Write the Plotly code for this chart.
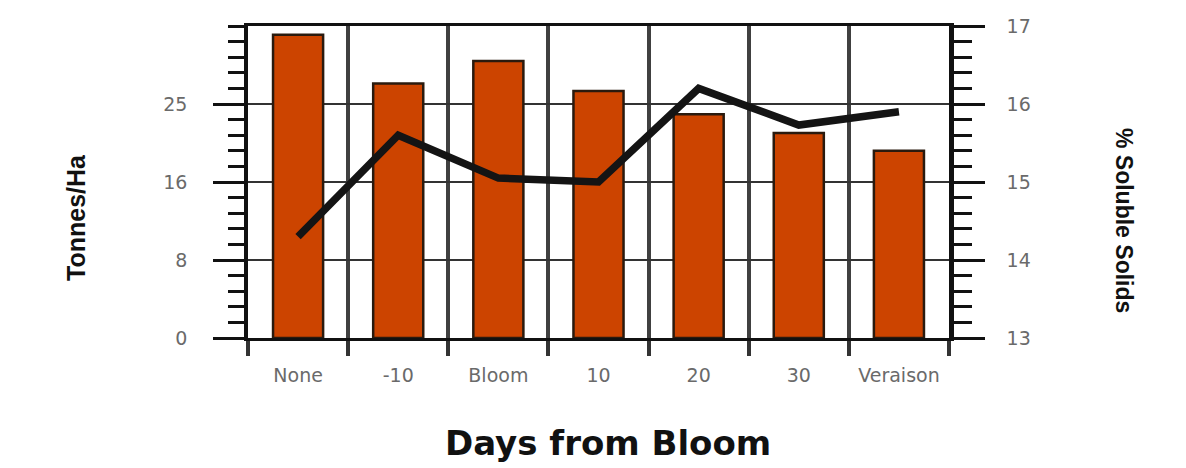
import plotly.graph_objects as go

# Days from bloom at which the treatment was applied
categories = ["None", "-10", "Bloom", "10", "20", "30", "Veraison"]
# Yield (tonnes per hectare), left axis
yield_t_ha = [32.4, 27.2, 29.6, 26.4, 23.9, 21.9, 20.0]
# Soluble solids (%), right axis
soluble_solids = [14.3, 15.6, 15.05, 15.0, 16.2, 15.73, 15.9]

# Left axis: four equal bands up to 33.3, labelled with rounded values
left_tickvals = [0, 25 / 3, 50 / 3, 25]
left_ticktext = ["0", "8", "16", "25"]

BAR_COLOR = "#CC4400"
INK = "#111111"
TICK_FONT = dict(family="DejaVu Sans, Verdana, sans-serif", size=19, color="#6a6a6a")
TITLE_FONT = "Liberation Sans, Arial, sans-serif"

fig = go.Figure()

fig.add_trace(go.Bar(
    x=categories,
    y=yield_t_ha,
    width=0.5,
    marker=dict(color=BAR_COLOR, line=dict(color="#2a1a0e", width=2.5)),
    yaxis="y",
    showlegend=False,
))

fig.add_trace(go.Scatter(
    x=categories,
    y=soluble_solids,
    mode="lines",
    line=dict(color="#141414", width=7.5),
    yaxis="y2",
    showlegend=False,
))

fig.update_layout(
    width=1186,
    height=468,
    margin=dict(l=248, r=237, t=26, b=130),
    paper_bgcolor="white",
    plot_bgcolor="white",
    xaxis=dict(
        type="category",
        tickson="boundaries",
        ticks="outside",
        ticklen=15,
        tickwidth=3.5,
        tickcolor="#333333",
        showgrid=True,
        gridcolor="#404040",
        gridwidth=3.5,
        showline=True,
        linecolor=INK,
        linewidth=3,
        mirror=True,
        tickfont=TICK_FONT,
        ticklabelstandoff=18,
    ),
    yaxis=dict(
        range=[0, 100 / 3],
        tickmode="array",
        tickvals=left_tickvals,
        ticktext=left_ticktext,
        ticks="outside",
        ticklen=31,
        tickwidth=2.5,
        tickcolor=INK,
        ticklabelstandoff=22,
        showgrid=True,
        gridcolor="#333333",
        gridwidth=2,
        zeroline=False,
        showline=True,
        linecolor=INK,
        linewidth=3.5,
        tickfont=TICK_FONT,
        minor=dict(
            tick0=0,
            dtick=25 / 15,
            ticks="outside",
            ticklen=16,
            tickwidth=2.5,
            tickcolor=INK,
            showgrid=False,
        ),
    ),
    yaxis2=dict(
        range=[13, 17],
        overlaying="y",
        side="right",
        tick0=13,
        dtick=1,
        ticks="outside",
        ticklen=31,
        tickwidth=2.5,
        tickcolor=INK,
        ticklabelstandoff=18,
        showgrid=False,
        zeroline=False,
        showline=True,
        linecolor=INK,
        linewidth=4.5,
        tickfont=TICK_FONT,
        minor=dict(
            tick0=13,
            dtick=0.2,
            ticks="outside",
            ticklen=18,
            tickwidth=2.5,
            tickcolor=INK,
            showgrid=False,
        ),
    ),
    annotations=[
        dict(
            text="Tonnes/Ha",
            x=76, y=218, xref="paper", yref="paper",
            textangle=-90,
            showarrow=False,
            font=dict(family=TITLE_FONT, size=25, color=INK, weight="bold"),
        ),
        dict(
            text="% Soluble Solids",
            x=1124, y=220, xref="paper", yref="paper",
            textangle=90,
            showarrow=False,
            font=dict(family=TITLE_FONT, size=23, color=INK, weight="bold"),
        ),
        dict(
            text="<b>Days from Bloom</b>",
            x=608, y=443, xref="paper", yref="paper",
            showarrow=False,
            font=dict(family="DejaVu Sans, Verdana, sans-serif", size=34, color=INK),
        ),
    ],
)

# Convert the pixel anchors of the annotations into paper coordinates
plot_w = 1186 - 248 - 237
plot_h = 468 - 26 - 130
for ann in fig.layout.annotations:
    px, py = ann.x, ann.y
    ann.x = (px - 248) / plot_w
    ann.y = (468 - 130 - py) / plot_h
    ann.xanchor = "center"
    ann.yanchor = "middle"

fig.write_html("out.html")
